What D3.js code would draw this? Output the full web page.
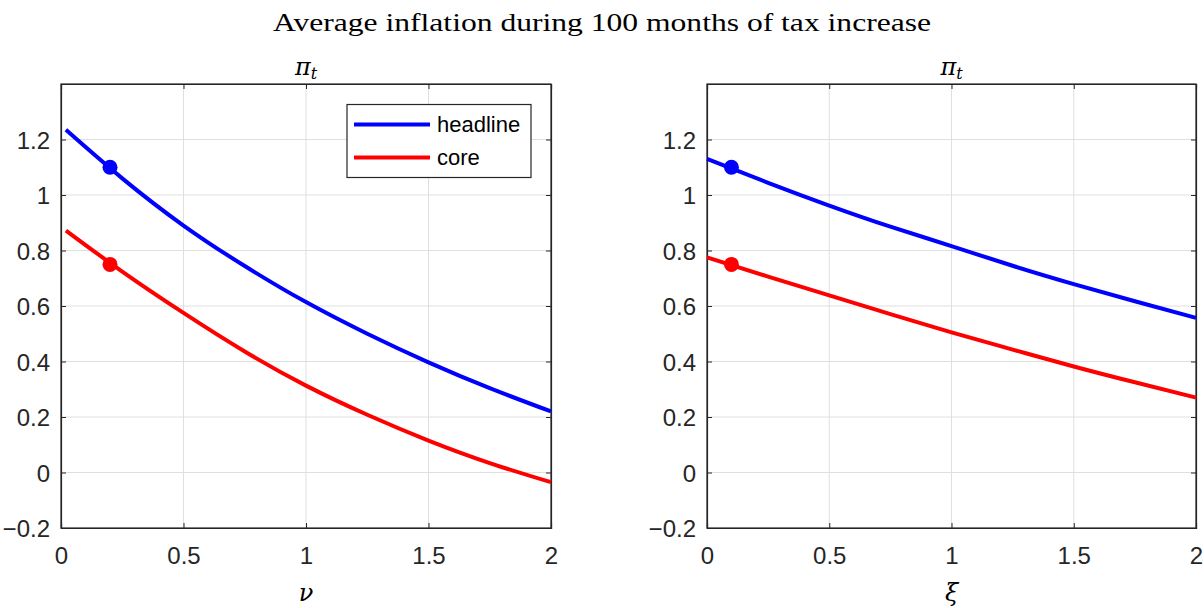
<!DOCTYPE html>
<html><head><meta charset="utf-8">
<script src="https://cdn.jsdelivr.net/npm/d3@7"></script>
<style>body{margin:0;background:#fff}svg{display:block}</style>
</head><body>
<svg id="c" width="1204" height="608"></svg>
<script>
const title = "Average inflation during 100 months of tax increase";
const panelTitles = ["π", "π"];
const xLabels = ["ν", "ξ"];
const seriesNames = ["headline", "core"];
const seriesColors = ["#0000ff", "#ff0000"];
const xTicks = [0, 0.5, 1, 1.5, 2];
const yTicks = [-0.2, 0, 0.2, 0.4, 0.6, 0.8, 1, 1.2];
const xDomain = [0, 2];
const yDomain = [-0.2, 1.4];

// left panel (nu)
const nuX = [0.02, 0.25, 0.5, 0.75, 1, 1.25, 1.5, 1.75, 2];
const nuHeadline = [1.235, 1.06, 0.89, 0.744, 0.614, 0.50, 0.397, 0.304, 0.22];
const nuCore = [0.872, 0.724, 0.575, 0.436, 0.313, 0.208, 0.115, 0.034, -0.035];
const nuMarker = [0.2, 1.1, 0.75];
// right panel (xi)
const xiX = [0, 0.25, 0.5, 0.75, 1, 1.25, 1.5, 1.75, 2];
const xiHeadline = [1.13, 1.044, 0.962, 0.886, 0.816, 0.745, 0.679, 0.617, 0.557];
const xiCore = [0.775, 0.706, 0.638, 0.571, 0.505, 0.443, 0.382, 0.325, 0.27];
const xiMarker = [0.1, 1.1, 0.75];

const svg = d3.select("#c");
const axisColor = "#262626";
const serif = "'DejaVu Serif', 'Liberation Serif', serif";
const sans = "'Liberation Sans', Arial, sans-serif";

svg.append("text").attr("x", 602).attr("y", 31).attr("text-anchor", "middle")
  .style("font-family", "'Liberation Serif', serif").style("font-size", "26px")
  .attr("textLength", 658).attr("lengthAdjust", "spacingAndGlyphs")
  .attr("fill", "#000").text(title);

const panels = [
  {left: 61, right: 551, xs: nuX, h: nuHeadline, c: nuCore, m: nuMarker, legend: true},
  {left: 707, right: 1196, xs: xiX, h: xiHeadline, c: xiCore, m: xiMarker, legend: false}
];
const yTop = 84, yBottom = 528;

panels.forEach((p, i) => {
  const x = d3.scaleLinear().domain(xDomain).range([p.left, p.right]);
  const y = d3.scaleLinear().domain(yDomain).range([yBottom, yTop]);
  const g = svg.append("g");
  // grid
  g.selectAll(".gx").data(xTicks.slice(1, -1)).join("line")
    .attr("x1", d => x(d)).attr("x2", d => x(d)).attr("y1", yTop).attr("y2", yBottom)
    .attr("stroke", "#dfdfdf").attr("stroke-width", 1);
  g.selectAll(".gy").data(yTicks.slice(1)).join("line")
    .attr("x1", p.left).attr("x2", p.right).attr("y1", d => y(d)).attr("y2", d => y(d))
    .attr("stroke", "#dfdfdf").attr("stroke-width", 1);

  // axes
  const ax = g.append("g").attr("transform", `translate(0,${yBottom})`)
    .call(d3.axisBottom(x).tickValues(xTicks).tickSize(-5).tickPadding(19).tickFormat(d3.format("")));
  const axT = g.append("g").attr("transform", `translate(0,${yTop})`)
    .call(d3.axisTop(x).tickValues(xTicks).tickSize(-5).tickFormat(""));
  const ay = g.append("g").attr("transform", `translate(${p.left},0)`)
    .call(d3.axisLeft(y).tickValues(yTicks).tickSize(-5).tickPadding(11).tickFormat(d3.format("")));
  const ayR = g.append("g").attr("transform", `translate(${p.right},0)`)
    .call(d3.axisRight(y).tickValues(yTicks).tickSize(-5).tickFormat(""));
  [ax, axT, ay, ayR].forEach(a => {
    a.select(".domain").attr("stroke", axisColor).attr("stroke-width", 1.2);
    a.selectAll(".tick line").attr("stroke", axisColor);
    a.selectAll("text").style("font-family", sans).style("font-size", "24px").attr("fill", axisColor);
  });
  ay.selectAll("text").attr("dy", "0.36em");
  // box outline
  g.append("rect").attr("x", p.left).attr("y", yTop).attr("width", p.right - p.left).attr("height", yBottom - yTop)
    .attr("fill", "none").attr("stroke", axisColor).attr("stroke-width", 1.2);

  // lines
  const line = d3.line().x(d => x(d[0])).y(d => y(d[1])).curve(d3.curveNatural);
  [p.h, p.c].forEach((vals, k) => {
    g.append("path").datum(p.xs.map((v, j) => [v, vals[j]]))
      .attr("d", line).attr("fill", "none").attr("stroke", seriesColors[k]).attr("stroke-width", 4);
  });
  // markers
  [p.m[1], p.m[2]].forEach((v, k) => {
    g.append("circle").attr("cx", x(p.m[0])).attr("cy", y(v)).attr("r", 7.5).attr("fill", seriesColors[k]);
  });

  // panel title
  const cx = (p.left + p.right) / 2;
  const t = g.append("text").attr("x", cx).attr("y", 75).attr("text-anchor", "middle")
    .style("font-family", serif).style("font-size", "24px").style("font-style", "italic").attr("fill", "#000");
  t.append("tspan").text(panelTitles[i]);
  t.append("tspan").style("font-size", "16px").attr("dy", 4).text("t");
  // x label
  g.append("text").attr("x", cx).attr("y", 601).attr("text-anchor", "middle")
    .style("font-family", serif).style("font-size", "24px").style("font-style", "italic").attr("fill", "#000")
    .text(xLabels[i]);

  if (p.legend) {
    const lg = g.append("g");
    lg.append("rect").attr("x", 347).attr("y", 104.5).attr("width", 184).attr("height", 73)
      .attr("fill", "#fff").attr("stroke", axisColor).attr("stroke-width", 1.2);
    seriesNames.forEach((n, k) => {
      const ly = 124.5 + k * 33;
      lg.append("line").attr("x1", 354).attr("x2", 430).attr("y1", ly).attr("y2", ly)
        .attr("stroke", seriesColors[k]).attr("stroke-width", 4);
      lg.append("text").attr("x", 437).attr("y", ly).attr("dy", "0.35em")
        .style("font-family", sans).style("font-size", "22px").attr("fill", "#000").text(n);
    });
  }
});
</script>
</body></html>
